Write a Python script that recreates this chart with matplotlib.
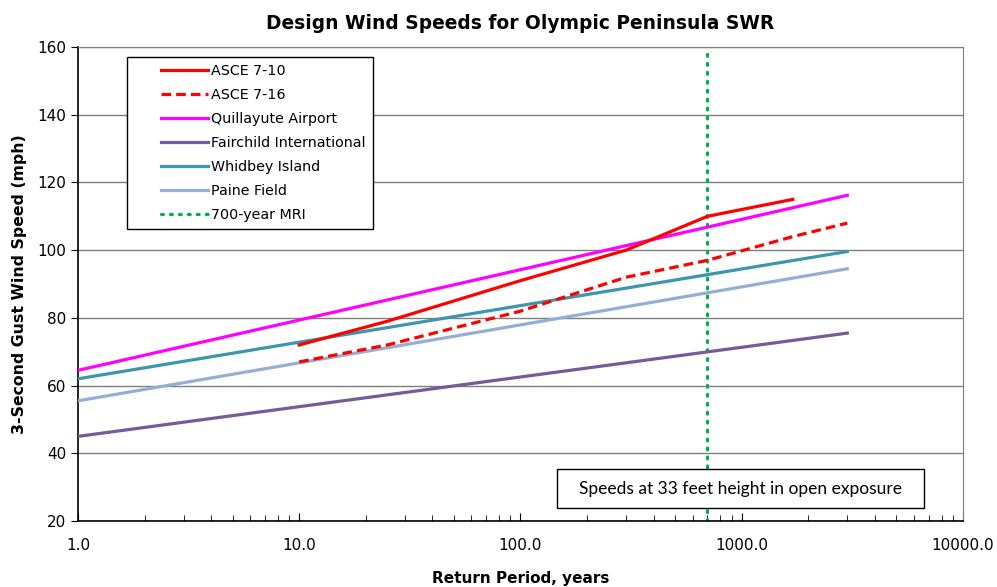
import matplotlib
matplotlib.use("Agg")
import matplotlib.pyplot as plt
from matplotlib.patches import Rectangle
from matplotlib.legend_handler import HandlerLine2D
from matplotlib.ticker import FixedLocator, LogLocator, NullFormatter

# DATA
asce710_x = [10, 25, 50, 100, 300, 700, 1700]
asce710_y = [72, 79, 85, 91, 100, 110, 115]

asce716_x = [10, 25, 50, 100, 300, 700, 1700, 3000]
asce716_y = [67, 72, 77, 82, 92, 97, 104, 108]

station_x = [1, 3000]
quillayute_y = [64.5, 116.2]
fairchild_y = [45.0, 75.5]
whidbey_y = [62.0, 99.6]
paine_y = [55.5, 94.5]

mri_x = 700

x_ticks = [1, 10, 100, 1000, 10000]
x_tick_labels = ["1.0", "10.0", "100.0", "1000.0", "10000.0"]
y_ticks = [20, 40, 60, 80, 100, 120, 140, 160]

# FIGURE
fig = plt.figure(figsize=(9.97, 5.87), dpi=100)
ax = fig.add_axes([0.0782, 0.1124, 0.8877, 0.8075])

lw = 2.3
ax.plot(asce710_x, asce710_y, color="#FF0000", lw=lw, label="ASCE 7-10", zorder=4)
ax.plot(asce716_x, asce716_y, color="#FF0000", lw=lw, ls=(0, (3, 1.6)), label="ASCE 7-16", zorder=4)
ax.plot(station_x, quillayute_y, color="#FF00FF", lw=lw, label="Quillayute Airport", zorder=3)
ax.plot(station_x, fairchild_y, color="#765A99", lw=lw, label="Fairchild International", zorder=3)
ax.plot(station_x, whidbey_y, color="#3C97AC", lw=lw, label="Whidbey Island", zorder=3)
ax.plot(station_x, paine_y, color="#95AED3", lw=lw, label="Paine Field", zorder=3)
ax.axvline(mri_x, color="#00B050", lw=2.3, ls=(0, (0.6, 2.2)), dash_capstyle="round",
           label="700-year MRI", zorder=2)

# AXES
ax.set_xscale("log")
ax.set_xlim(1, 10000)
ax.set_ylim(20, 160)
ax.xaxis.set_major_locator(FixedLocator(x_ticks))
ax.set_xticklabels(x_tick_labels)
ax.xaxis.set_minor_locator(LogLocator(base=10, subs=range(2, 10)))
ax.xaxis.set_minor_formatter(NullFormatter())
ax.set_yticks(y_ticks)

ax.tick_params(axis="x", which="major", direction="in", length=6, labelsize=11, pad=12)
ax.tick_params(axis="x", which="minor", direction="in", length=4)
ax.tick_params(axis="y", direction="out", length=5, labelsize=11)
ax.tick_params(top=False, right=False)

ax.grid(axis="y", color="#7F7F7F", lw=1.0)
ax.set_axisbelow(True)
for side in ["top", "right"]:
    ax.spines[side].set_color("#7F7F7F")
for side in ["left", "bottom"]:
    ax.spines[side].set_color("black")
    ax.spines[side].set_linewidth(1.2)

ax.set_title("Design Wind Speeds for Olympic Peninsula SWR", fontsize=13.4,
             fontweight="bold", pad=13)
ax.set_xlabel("Return Period, years", fontsize=11, fontweight="bold", labelpad=13)
ax.set_ylabel("3-Second Gust Wind Speed (mph)", fontsize=11.3, fontweight="bold", labelpad=7)

# LEGEND
leg = ax.legend(loc="upper left", bbox_to_anchor=(0.055, 0.979), fontsize=10.3,
                handlelength=5.2, labelspacing=0.7, borderpad=0.5,
                handletextpad=0.2, fancybox=False, framealpha=1,
                borderaxespad=0,
                handler_map={matplotlib.lines.Line2D: HandlerLine2D(xpad=1.9)})
leg.get_frame().set_edgecolor("black")
leg.get_frame().set_linewidth(1.0)

# NOTE BOX
ax.add_patch(Rectangle((0.5412, 0.0274), 0.4147, 0.0823, transform=ax.transAxes,
                       facecolor="white", edgecolor="black", lw=1.0, zorder=5))
ax.text(0.7486, 0.0686, "Speeds at 33 feet height in open exposure",
        transform=ax.transAxes, ha="center", va="center", fontsize=12.5,
        family=["Lato", "DejaVu Sans"], zorder=6)

fig.savefig("out.png", dpi=100)
